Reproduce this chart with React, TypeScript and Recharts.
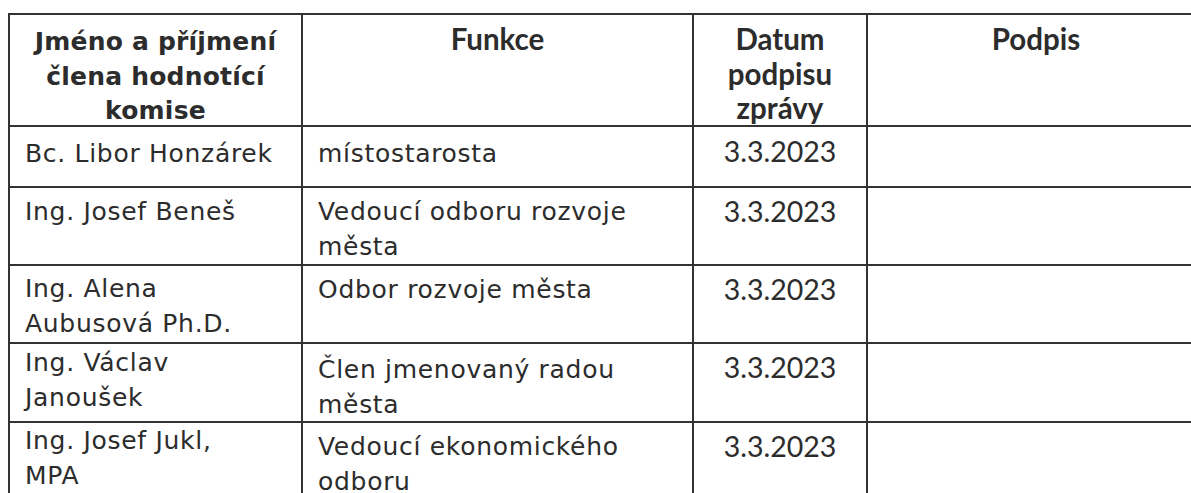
import { ReferenceArea, Scatter, ScatterChart, XAxis, YAxis } from "recharts"

// table content
const headerName = ["Jméno a příjmení", "člena hodnotící", "komise"]
const headerFunction = ["Funkce"]
const headerDate = ["Datum", "podpisu", "zprávy"]
const headerSignature = ["Podpis"]

const members = [
  ["Bc. Libor Honzárek"],
  ["Ing. Josef Beneš"],
  ["Ing. Alena", "Aubusová Ph.D."],
  ["Ing. Václav", "Janoušek"],
  ["Ing. Josef Jukl,", "MPA"],
]

const functions = [
  ["místostarosta"],
  ["Vedoucí odboru rozvoje", "města"],
  ["Odbor rozvoje města"],
  ["Člen jmenovaný radou", "města"],
  ["Vedoucí ekonomického", "odboru"],
]

const dates = ["3.3.2023", "3.3.2023", "3.3.2023", "3.3.2023", "3.3.2023"]

// layout (page pixels)
const W = 1191
const H = 493
const colEdges = [9, 302, 693, 867, 1205]
const rowEdges = [14, 126, 187, 265, 343, 422, 530]
const headerBaseline = 50
const headerLineGap = 34.5
const bodyLineGap = 34.5
const nameBaseline = [162, 220, 297, 371, 449]
const functionBaseline = [162, 220, 298, 378, 455]
const dateBaseline = [162, 222, 300, 378, 457]
const cellPad = 16

const INK = "#2c2c2c"

type Font = "head" | "headCal" | "body" | "date"

interface TextPoint {
  x: number
  y: number
  text: string
  anchor: "start" | "middle"
  font: Font
}

const fontStyles: Record<Font, React.CSSProperties> = {
  head: { fontFamily: "'DejaVu Sans', sans-serif", fontSize: 25, fontWeight: 700, letterSpacing: 0.2 },
  headCal: { fontFamily: "Lato, sans-serif", fontSize: 29.5, fontWeight: 700 },
  body: { fontFamily: "'DejaVu Sans', sans-serif", fontSize: 25, letterSpacing: 0.7 },
  date: { fontFamily: "Lato, sans-serif", fontSize: 28.5 },
}

const center = (c: number) => (colEdges[c] + colEdges[c + 1]) / 2

function buildTexts(): TextPoint[] {
  const pts: TextPoint[] = []
  const headers: [string[], Font][] = [
    [headerName, "head"],
    [headerFunction, "headCal"],
    [headerDate, "headCal"],
    [headerSignature, "headCal"],
  ]
  headers.forEach(([lines, font], c) => {
    lines.forEach((text, i) => {
      pts.push({ x: center(c), y: headerBaseline + i * headerLineGap, text, anchor: "middle", font })
    })
  })
  members.forEach((lines, r) => {
    lines.forEach((text, i) => {
      pts.push({ x: colEdges[0] + cellPad, y: nameBaseline[r] + i * bodyLineGap, text, anchor: "start", font: "body" })
    })
  })
  functions.forEach((lines, r) => {
    lines.forEach((text, i) => {
      pts.push({ x: colEdges[1] + cellPad, y: functionBaseline[r] + i * bodyLineGap, text, anchor: "start", font: "body" })
    })
  })
  dates.forEach((text, r) => {
    pts.push({ x: center(2), y: dateBaseline[r], text, anchor: "middle", font: "date" })
  })
  return pts
}

const texts = buildTexts()

function CellText(props: any) {
  const p: TextPoint = props.payload
  return (
    <text x={props.cx} y={props.cy} textAnchor={p.anchor} fill={INK} style={fontStyles[p.font]}>
      {p.text}
    </text>
  )
}

export default function App() {
  const cells: { x1: number; x2: number; y1: number; y2: number }[] = []
  for (let r = 0; r < rowEdges.length - 1; r++) {
    for (let c = 0; c < colEdges.length - 1; c++) {
      cells.push({ x1: colEdges[c], x2: colEdges[c + 1], y1: rowEdges[r], y2: rowEdges[r + 1] })
    }
  }

  return (
    <div style={{ position: "absolute", left: 0, top: 0, width: W, height: H, background: "#fff" }}>
      <ScatterChart width={W} height={H} margin={{ top: 0, right: 0, bottom: 0, left: 0 }}>
        <XAxis type="number" dataKey="x" domain={[0, W]} hide allowDataOverflow />
        <YAxis type="number" dataKey="y" domain={[0, H]} reversed hide allowDataOverflow />
        {cells.map((cell, i) => (
          <ReferenceArea
            key={i}
            x1={cell.x1}
            x2={cell.x2}
            y1={cell.y1}
            y2={cell.y2}
            fill="#fff"
            fillOpacity={1}
            stroke="#333"
            strokeWidth={2}
            ifOverflow="visible"
          />
        ))}
        <Scatter data={texts} shape={CellText} isAnimationActive={false} legendType="none" />
      </ScatterChart>
    </div>
  )
}
